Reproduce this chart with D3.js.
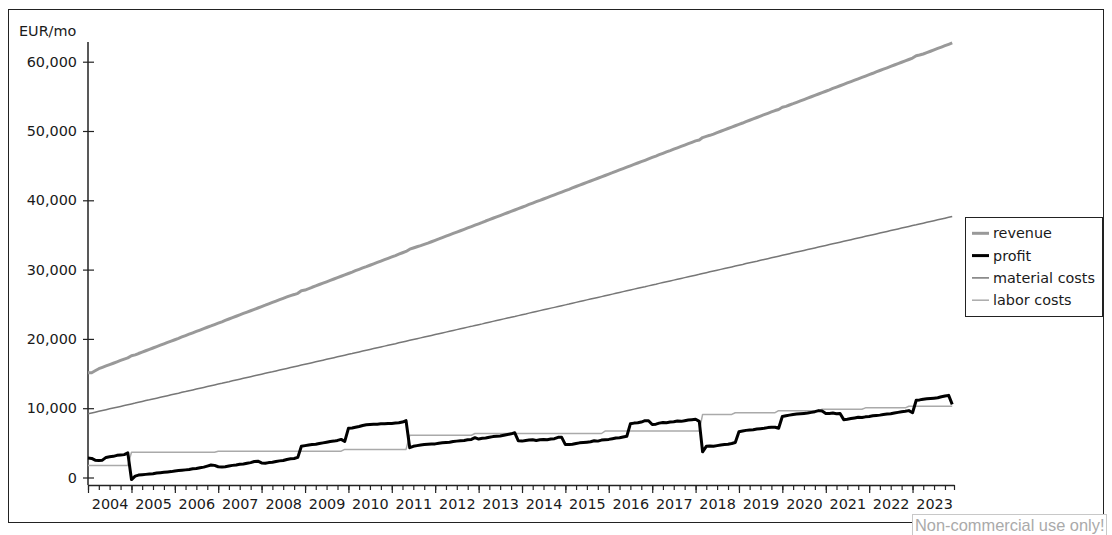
<!DOCTYPE html>
<html><head><meta charset="utf-8">
<script src="https://cdn.jsdelivr.net/npm/d3@7"></script>
<style>
html,body{margin:0;padding:0;background:#fff;}
svg{display:block;}
.lbl{font-family:"DejaVu Sans",Verdana,sans-serif;font-size:14.4px;fill:#1a1a1a;}
</style></head><body>
<svg id="chart" width="1112" height="535"></svg>
<script>
const startYear = 2004;
const endYear = 2023;
const yTicks = [0, 10000, 20000, 30000, 40000, 50000, 60000];
const yUnit = "EUR/mo";
const seriesNames = ["revenue", "profit", "material costs", "labor costs"];
const watermark = "Non-commercial use only!";

// monthly values, Jan 2004 .. Dec 2023 (one row per year)
const revenue = [
  15100,15120,15400,15700,15900,16100,16300,16490,16690,16890,17090,17260,
  17560,17690,17890,18090,18290,18490,18690,18890,19090,19290,19490,19680,
  19880,20080,20280,20480,20680,20880,21080,21280,21480,21680,21870,22070,
  22270,22470,22670,22870,23070,23270,23470,23670,23870,24060,24260,24460,
  24660,24860,25060,25260,25460,25660,25860,26060,26250,26400,26580,26950,
  27050,27250,27450,27650,27850,28050,28240,28440,28640,28840,29040,29240,
  29440,29640,29840,30040,30240,30430,30630,30830,31030,31230,31430,31630,
  31830,32030,32230,32430,32620,32950,33120,33300,33460,33640,33820,34020,
  34220,34420,34620,34820,35020,35220,35420,35610,35810,36010,36210,36410,
  36610,36810,37010,37210,37410,37610,37800,38000,38200,38400,38600,38800,
  39000,39200,39400,39600,39800,39990,40190,40390,40590,40790,40990,41190,
  41390,41590,41790,41990,42190,42390,42590,42780,42980,43180,43380,43580,
  43780,43980,44180,44380,44580,44780,44980,45180,45380,45570,45770,45970,
  46180,46380,46580,46780,46980,47170,47370,47570,47770,47970,48170,48370,
  48570,48700,49050,49220,49380,49560,49760,49960,50160,50360,50560,50760,
  50960,51150,51350,51550,51750,51950,52150,52350,52550,52750,52950,53100,
  53420,53550,53750,53940,54140,54340,54540,54740,54940,55140,55340,55540,
  55740,55940,56140,56340,56530,56730,56930,57130,57330,57530,57730,57930,
  58130,58330,58530,58730,58920,59120,59320,59520,59720,59920,60120,60320,
  60520,60850,60960,61110,61310,61510,61710,61910,62110,62310,62510,62710
];
const profit = [
  2800,2750,2500,2450,2500,2900,3000,3050,3200,3250,3300,3550,
  -300,200,350,400,450,500,550,650,700,750,800,850,
  950,1000,1050,1100,1150,1250,1300,1400,1500,1650,1800,1750,
  1550,1500,1550,1650,1750,1800,1900,1950,2050,2150,2300,2350,
  2100,2050,2150,2200,2300,2400,2450,2600,2700,2750,2900,4500,
  4600,4700,4750,4800,4900,5000,5100,5200,5250,5350,5500,5200,
  7100,7150,7250,7350,7500,7600,7650,7700,7700,7750,7750,7800,
  7800,7850,7900,8000,8200,4300,4500,4600,4700,4750,4800,4850,
  4850,4950,5000,5050,5100,5200,5250,5300,5350,5450,5500,5750,
  5550,5650,5700,5800,5900,5950,6000,6100,6200,6300,6450,5300,
  5250,5350,5400,5450,5350,5450,5500,5450,5550,5600,5800,5800,
  4750,4750,4800,4900,5000,5050,5100,5150,5300,5250,5400,5450,
  5500,5600,5700,5750,5850,5950,7750,7850,7900,8000,8200,8200,
  7650,7700,7850,7950,7900,8000,8050,8150,8100,8200,8300,8350,
  8400,8100,3700,4500,4550,4500,4600,4700,4750,4800,4900,5050,
  6600,6700,6800,6850,6900,7000,7050,7100,7200,7250,7250,7100,
  8800,8900,9000,9100,9150,9200,9250,9300,9400,9500,9650,9600,
  9250,9250,9300,9200,9250,8350,8400,8500,8600,8700,8650,8750,
  8800,8900,8950,9000,9100,9150,9200,9300,9400,9500,9550,9650,
  9350,11150,11200,11300,11350,11400,11450,11500,11650,11750,11850,10550
];
const materialCosts = [
  9190,9310,9430,9550,9670,9790,9910,10020,10140,10260,10380,10500,
  10620,10740,10860,10980,11100,11210,11330,11450,11570,11690,11810,11930,
  12050,12170,12290,12400,12520,12640,12760,12880,13000,13120,13240,13360,
  13480,13600,13720,13830,13950,14070,14190,14310,14430,14550,14670,14790,
  14910,15030,15150,15260,15380,15500,15620,15740,15860,15980,16100,16220,
  16340,16460,16570,16690,16810,16930,17050,17170,17290,17410,17530,17650,
  17770,17880,18000,18120,18240,18360,18480,18600,18720,18840,18960,19080,
  19190,19310,19430,19550,19670,19790,19910,20030,20150,20270,20390,20500,
  20620,20740,20860,20980,21100,21220,21340,21460,21580,21700,21810,21930,
  22050,22170,22290,22410,22530,22650,22770,22890,23010,23130,23240,23360,
  23480,23600,23720,23840,23960,24080,24200,24320,24440,24550,24670,24790,
  24910,25030,25150,25270,25390,25510,25630,25750,25870,25980,26100,26220,
  26340,26460,26580,26700,26820,26940,27060,27180,27300,27420,27530,27650,
  27770,27890,28010,28130,28250,28370,28480,28600,28720,28840,28960,29080,
  29200,29320,29440,29560,29680,29800,29910,30030,30150,30270,30390,30510,
  30630,30750,30870,30990,31110,31220,31340,31460,31580,31700,31820,31940,
  32060,32180,32300,32420,32530,32650,32770,32890,33010,33130,33250,33370,
  33490,33610,33720,33840,33960,34080,34200,34320,34440,34560,34680,34800,
  34920,35040,35150,35270,35390,35510,35630,35750,35870,35990,36110,36230,
  36350,36460,36580,36700,36820,36940,37060,37180,37300,37420,37540,37660
];
const laborCosts = [
  1730,1730,1730,1730,1730,1730,1730,1730,1730,1730,1730,1730,
  3650,3650,3650,3650,3650,3650,3650,3650,3650,3650,3650,3650,
  3650,3650,3650,3650,3650,3650,3650,3650,3650,3650,3650,3650,
  3800,3800,3800,3800,3800,3800,3800,3800,3800,3800,3800,3800,
  3800,3800,3800,3800,3800,3800,3800,3800,3800,3800,3800,3800,
  3800,3800,3800,3800,3800,3800,3800,3800,3800,3800,3800,4050,
  4050,4050,4050,4050,4050,4050,4050,4050,4050,4050,4050,4050,
  4050,4050,4050,4050,4050,6100,6100,6100,6100,6100,6100,6100,
  6100,6100,6100,6100,6100,6100,6100,6100,6100,6100,6100,6350,
  6350,6350,6350,6350,6350,6350,6350,6350,6350,6350,6350,6350,
  6350,6350,6350,6350,6350,6350,6350,6350,6350,6350,6350,6350,
  6350,6350,6350,6350,6350,6350,6350,6350,6350,6350,6350,6700,
  6700,6700,6700,6700,6700,6700,6700,6700,6700,6700,6700,6700,
  6700,6700,6700,6700,6700,6700,6700,6700,6700,6700,6700,6700,
  6700,6700,9100,9100,9100,9100,9100,9100,9100,9100,9100,9350,
  9350,9350,9350,9350,9350,9350,9350,9350,9350,9350,9350,9650,
  9650,9650,9650,9650,9650,9650,9650,9650,9650,9650,9650,9850,
  9850,9850,9850,9850,9850,9850,9850,9850,9850,9850,9850,10050,
  10050,10050,10050,10050,10050,10050,10050,10050,10050,10050,10050,10280,
  10280,10280,10280,10280,10280,10280,10280,10280,10280,10280,10280,10280
];

const months = revenue.map((_, i) => new Date(startYear, i, 1));

const svg = d3.select("#chart");

// outer frame
svg.append("rect").attr("x", 8.5).attr("y", 9.5).attr("width", 1095).attr("height", 513)
  .attr("fill", "#fff").attr("stroke", "#222").attr("stroke-width", 1);

const x = d3.scaleTime()
  .domain([new Date(startYear, 0, 1), new Date(endYear, 11, 16)])
  .range([88, 954]);
const y = d3.scaleLinear().domain([0, 60000]).range([477.5, 61.7]);

// Y axis
const gy = svg.append("g").attr("transform", "translate(88,0)")
  .call(d3.axisLeft(y).tickValues(yTicks).tickFormat(d3.format(","))
    .tickSizeInner(5).tickSizeOuter(0).tickPadding(6));
gy.select(".domain").remove();
gy.selectAll(".tick line").attr("x1", -5).attr("x2", 6).attr("stroke", "#222").attr("stroke-width", 1.2);
gy.selectAll(".tick text").attr("class", "lbl").attr("font-family", null).attr("font-size", null);
gy.append("line").attr("x1", 0).attr("x2", 0).attr("y1", 42).attr("y2", 485)
  .attr("stroke", "#222").attr("stroke-width", 1.5);

svg.append("text").attr("class", "lbl").attr("x", 19).attr("y", 36).text(yUnit);

// X axis
const yearStarts = d3.timeYear.range(new Date(startYear, 0, 1), new Date(endYear + 1, 0, 1));
const quarters = d3.timeMonth.every(3).range(new Date(startYear, 0, 1), new Date(endYear + 1, 0, 1));
const gxMinor = svg.append("g").attr("transform", "translate(0,485)")
  .call(d3.axisBottom(x).tickValues(quarters.concat([x.domain()[1]])).tickSize(5).tickSizeOuter(0).tickFormat(""));
gxMinor.select(".domain").attr("stroke", "#222").attr("stroke-width", 1.5);
gxMinor.selectAll(".tick line").attr("stroke", "#222").attr("stroke-width", 1.2);
const gxMajor = svg.append("g").attr("transform", "translate(0,485)")
  .call(d3.axisBottom(x).tickValues(yearStarts).tickSize(8).tickSizeOuter(0).tickFormat(""));
gxMajor.select(".domain").remove();
gxMajor.selectAll(".tick line").attr("stroke", "#222").attr("stroke-width", 1.2);
const midYears = yearStarts.map(d => new Date(d.getFullYear(), 6, 1));
const gxLab = svg.append("g").attr("transform", "translate(0,485)")
  .call(d3.axisBottom(x).tickValues(midYears).tickSize(0).tickPadding(14).tickFormat(d3.timeFormat("%Y")));
gxLab.select(".domain").remove();
gxLab.selectAll(".tick text").attr("class", "lbl").attr("font-family", null).attr("font-size", null);

// Lines
const line = d3.line().x((d, i) => x(months[i])).y(d => y(d));
const styles = [
  {name: "labor costs", data: laborCosts, color: "#aaaaaa", width: 1.5},
  {name: "material costs", data: materialCosts, color: "#777777", width: 1.5},
  {name: "revenue", data: revenue, color: "#999999", width: 3},
  {name: "profit", data: profit, color: "#000000", width: 3}
];
styles.forEach(s => {
  svg.append("path").datum(s.data).attr("d", line)
    .attr("fill", "none").attr("stroke", s.color).attr("stroke-width", s.width)
    .attr("stroke-linejoin", "round");
});

// Legend
const lg = svg.append("g");
lg.append("rect").attr("x", 965.5).attr("y", 217.5).attr("width", 137).attr("height", 99)
  .attr("fill", "#fff").attr("stroke", "#222");
seriesNames.forEach((n, i) => {
  const s = styles.find(t => t.name === n);
  const cy = 233.3 + i * 22.3;
  lg.append("line").attr("x1", 972).attr("x2", 989).attr("y1", cy).attr("y2", cy)
    .attr("stroke", s.color).attr("stroke-width", s.width);
  lg.append("text").attr("class", "lbl").attr("x", 993).attr("y", cy).attr("dy", "0.35em").text(n);
});

// watermark
svg.append("rect").attr("x", 912.5).attr("y", 514.5).attr("width", 194).attr("height", 22)
  .attr("fill", "#fff").attr("stroke", "#c8c8c8");
svg.append("text").attr("x", 915).attr("y", 531)
  .style("font-family", "'Liberation Sans', Arial, sans-serif").style("font-size", "16.4px")
  .attr("fill", "#aaaaaa").text(watermark);
</script>
</body></html>
